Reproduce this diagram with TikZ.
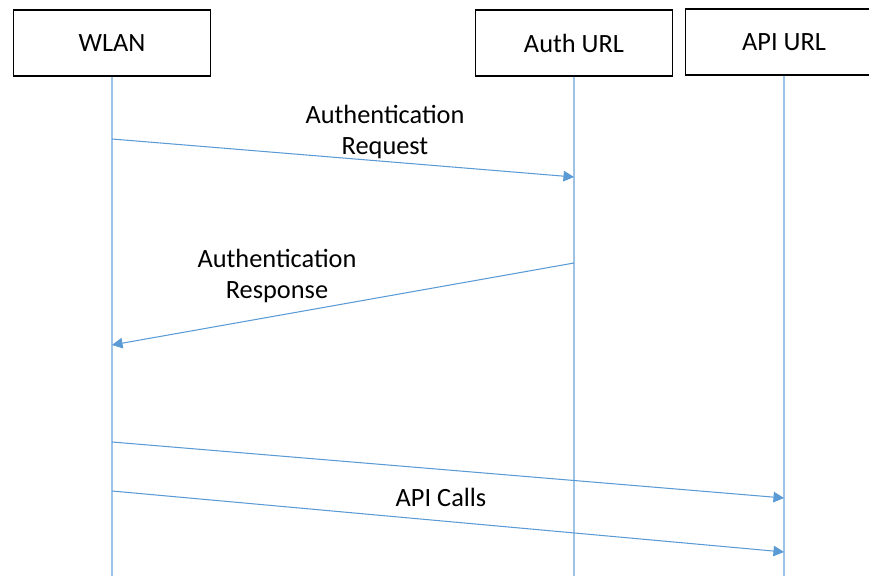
\documentclass[tikz,border=0pt]{standalone}
\usepackage{fontspec}
\setmainfont{Carlito}
\usetikzlibrary{arrows.meta}
\definecolor{lifeblue}{HTML}{9DC3E6}
\definecolor{msgblue}{HTML}{5B9BD5}

\begin{document}
\begin{tikzpicture}
	[x=0.02cm,y=-0.02cm,
	 actor/.style={draw,line width=1pt,minimum width=3.94cm,minimum height=1.32cm,font=\fontsize{15}{18}\selectfont},
	 life/.style={-,lifeblue,line width=0.6pt},
	 msg/.style={-{Triangle[length=6pt,width=6pt]},msgblue,line width=0.6pt},
	 msglabel/.style={align=center,font=\fontsize{15}{18}\selectfont}]

	\useasboundingbox (0,0) rectangle (869,575);
	\clip (0,0) rectangle (869,575);

	\node[actor] (wlan) at (112,43) {WLAN};
	\node[actor] (auth) at (574,43) {Auth URL};
	\node[actor] (api)  at (784,42) {API URL};

	\coordinate (wlanend) at (112,580);
	\coordinate (authend) at (574,580);
	\coordinate (apiend)  at (784,580);

	\draw[life] (wlan) -- (wlanend);
	\draw[life] (auth) -- (authend);
	\draw[life] (api)  -- (apiend);

	\coordinate (reqa)  at (112,139);
	\coordinate (reqb)  at (574,177);
	\coordinate (respa) at (574,263);
	\coordinate (respb) at (112,345);
	\coordinate (calla) at (112,442);
	\coordinate (callb) at (784,498);
	\coordinate (callc) at (112,491);
	\coordinate (calld) at (784,552);

	\draw[msg] (reqa)  -- (reqb);
	\draw[msg] (respa) -- (respb);
	\draw[msg] (calla) -- (callb);
	\draw[msg] (callc) -- (calld);

	\node[msglabel] (reqtext)  at (385,132) {Authentication\\Request};
	\node[msglabel] (resptext) at (277,276) {Authentication\\Response};
	\node[msglabel] (calltext) at (441,497) {API Calls};
\end{tikzpicture}
\end{document}
